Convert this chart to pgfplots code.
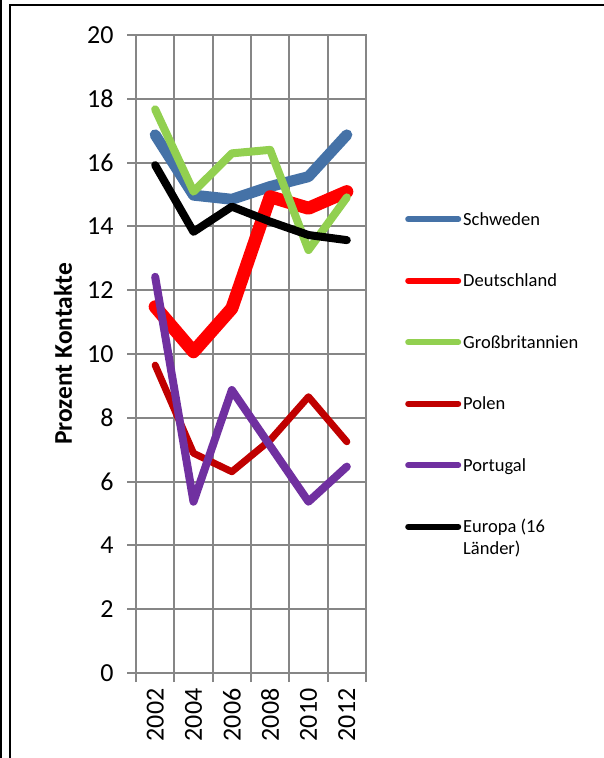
\documentclass[border=0pt]{standalone}
\usepackage{fontspec}
\setmainfont{Carlito}
\usepackage{pgfplots}
\pgfplotsset{compat=1.18}

\definecolor{gridgray}{HTML}{868686}
\definecolor{cSchweden}{HTML}{4572A7}
\definecolor{cDeutsch}{HTML}{FF0000}
\definecolor{cGB}{HTML}{92D050}
\definecolor{cPolen}{HTML}{C00000}
\definecolor{cPortugal}{HTML}{7030A0}

\begin{document}
\begin{tikzpicture}
\useasboundingbox (0pt,0pt) rectangle (604pt,-758pt);
% chart frame (left double line and top edge)
\draw[line width=2pt] (1pt,0pt) -- (1pt,-758pt);
\draw[line width=2pt] (10pt,-758pt) -- (10pt,-5pt) -- (604pt,-5pt);
\begin{axis}[
    at={(136pt,-673pt)}, anchor=south west,
    scale only axis, width=230pt, height=638pt,
    xmin=0.5, xmax=6.5, ymin=0, ymax=20,
    xtick={0.5,1.5,...,6.5}, xticklabels={,,,,,,,},
    extra x ticks={1,2,3,4,5,6},
    extra x tick labels={2002,2004,2006,2008,2010,2012},
    extra x tick style={grid=none, major tick length=0pt},
    ytick={0,2,...,20},
    xtick pos=bottom, ytick pos=left,
    tick align=outside, major tick length=9pt,
    grid=major,
    major grid style={draw=gridgray, line width=2pt},
    axis line style={draw=gridgray, line width=2pt},
    tick style={draw=gridgray, line width=2pt},
    tick label style={font=\fontsize{26}{30}\selectfont},
    /pgf/number format/assume math mode=true,
    x tick label style={rotate=90, anchor=east},
    xticklabel shift=12pt, yticklabel shift=10pt,
    ylabel={Prozent Kontakte},
    ylabel style={font=\bfseries\fontsize{25.5}{30}\selectfont,
        at={(rel axis cs:-0.3174,0.5)}, anchor=center},
    legend style={at={(rel axis cs:1.1696,0.7257)}, anchor=north west,
        draw=none, fill=none, inner sep=0pt, row sep=43.5pt, column sep=2pt,
        font=\fontsize{18.5}{22}\selectfont,
        nodes={inner sep=0pt, text height=15pt, text depth=3pt}},
    legend cell align=left,
    legend image code/.code={\draw[#1, line width=6pt, line cap=round] (3pt,0pt) -- (53pt,0pt);},
    every axis plot/.append style={line cap=round, line join=round},
]
\addplot[cSchweden, line width=11pt] coordinates {(1,16.87) (2,14.98) (3,14.85) (4,15.25) (5,15.56) (6,16.87)};
\addplot[cDeutsch, line width=13pt] coordinates {(1,11.48) (2,10.07) (3,11.43) (4,14.93) (5,14.57) (6,15.09)};
\addplot[cGB, line width=8pt] coordinates {(1,17.67) (2,15.09) (3,16.29) (4,16.40) (5,13.26) (6,14.91)};
\addplot[cPolen, line width=7pt] coordinates {(1,9.65) (2,6.89) (3,6.31) (4,7.30) (5,8.66) (6,7.25)};
\addplot[cPortugal, line width=8pt] coordinates {(1,12.42) (2,5.37) (3,8.87) (4,7.12) (5,5.37) (6,6.47)};
\addplot[black, line width=8pt] coordinates {(1,15.92) (2,13.83) (3,14.62) (4,14.15) (5,13.73) (6,13.57)};
\legend{Schweden, Deutschland, Großbritannien, Polen, Portugal, \parbox[t]{100pt}{Europa (16\\Länder)}}
\end{axis}
\end{tikzpicture}
\end{document}
